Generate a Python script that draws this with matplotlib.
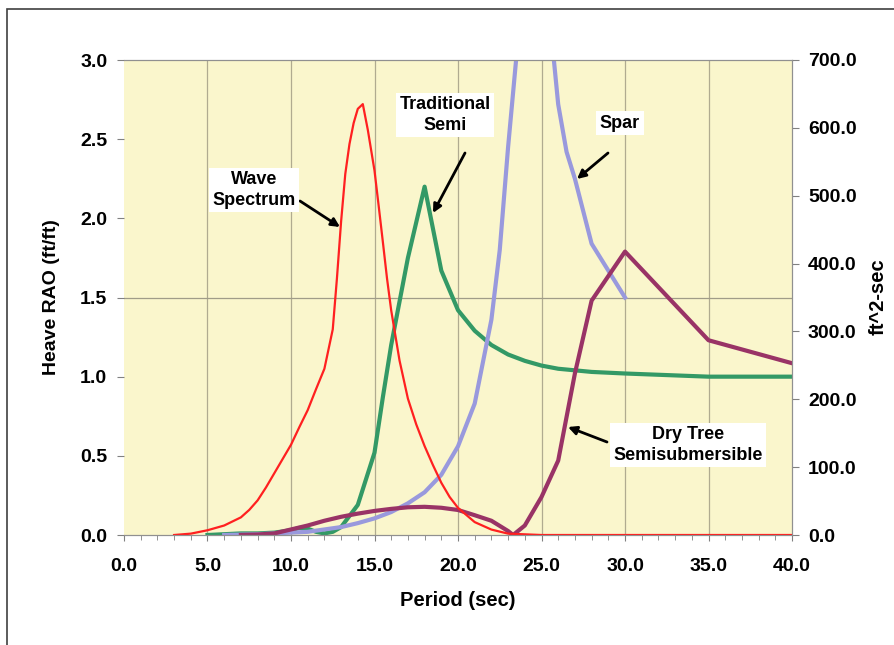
import matplotlib
matplotlib.use("Agg")
import matplotlib.pyplot as plt
from matplotlib.patches import Rectangle
from matplotlib.ticker import MultipleLocator, FormatStrFormatter

plt.rcParams['font.family'] = ['Liberation Sans', 'DejaVu Sans']
plt.rcParams['font.weight'] = 'bold'

# wave spectrum (ft^2-sec, right axis)
wave_t = [3, 4, 5, 6, 7, 7.5, 8, 8.5, 9, 9.5, 10, 10.5, 11, 11.5, 12, 12.5,
          12.75, 13, 13.25, 13.5, 13.75, 14, 14.3, 14.6, 15, 15.25, 15.5,
          15.75, 16, 16.5, 17, 17.5, 18, 18.5, 19, 19.5, 20, 21, 22, 23, 24,
          25, 30, 35, 40]
wave_s = [0, 2, 7, 14, 26, 37, 51, 70, 91, 112, 133, 159, 184, 215, 245, 303,
          378, 462, 532, 576, 607, 628, 635, 597, 537, 485, 432, 378, 331, 257,
          201, 163, 131, 103, 77, 56, 40, 19, 8, 2, 1, 0, 0, 0, 0]

# heave RAOs (ft/ft, left axis)
semi_t = [5, 6, 7, 8, 9, 10, 10.5, 11, 11.5, 12, 12.5, 13, 14, 15, 15.5, 16, 17,
          18, 19, 20, 21, 22, 23, 24, 25, 26, 27, 28, 30, 35, 40]
semi_r = [0, 0.005, 0.01, 0.01, 0.015, 0.03, 0.045, 0.04, 0.02, 0.01, 0.02, 0.05,
          0.19, 0.52, 0.87, 1.2, 1.75, 2.2, 1.67, 1.42, 1.29, 1.2, 1.14, 1.1,
          1.07, 1.05, 1.04, 1.03, 1.02, 1.0, 1.0]

spar_t = [6, 8, 10, 11, 12, 13, 14, 15, 16, 17, 18, 19, 20, 21, 22, 22.5, 23,
          24, 24.5, 25, 26, 26.5, 27, 28, 30]
spar_r = [0, 0.005, 0.015, 0.02, 0.035, 0.05, 0.075, 0.105, 0.145, 0.2, 0.27,
          0.38, 0.56, 0.83, 1.36, 1.8, 2.45, 3.6, 4.2, 3.8, 2.72, 2.42, 2.25,
          1.84, 1.5]

dry_t = [7, 8, 9, 10, 11, 12, 13, 14, 15, 16, 17, 18, 19, 20, 21, 22, 23, 23.3,
         24, 25, 26, 27, 28, 30, 35, 40]
dry_r = [0, 0.003, 0.01, 0.035, 0.06, 0.09, 0.115, 0.135, 0.152, 0.165, 0.175,
         0.178, 0.172, 0.158, 0.125, 0.09, 0.025, 0.0, 0.06, 0.24, 0.47, 1.02,
         1.48, 1.79, 1.23, 1.085]

fig = plt.figure(figsize=(8.95, 6.45), dpi=100)
fig.patches.append(Rectangle((7 / 895, -0.1), 1.2, 1 - 9 / 645 + 0.1,
                             transform=fig.transFigure, fill=False,
                             edgecolor='#404040', lw=1.2))

ax = fig.add_axes([124 / 895, 1 - 535 / 645, 668 / 895, 475 / 645])
ax.set_facecolor('#faf6cc')
ax2 = ax.twinx()

ax.set_xlim(0, 40)
ax.set_ylim(0, 3.0)
ax2.set_ylim(0, 700)

for x in range(5, 40, 5):
    ax.axvline(x, color='#b0ab90', lw=0.9, zorder=0)
ax.axhline(1.5, color='#a09c88', lw=0.9, zorder=0)

ax.plot(semi_t, semi_r, color='#339966', lw=3)
ax.plot(spar_t, spar_r, color='#9999dd', lw=3)
ax.plot(dry_t, dry_r, color='#993366', lw=3)
ax2.plot(wave_t, wave_s, color='#ff2020', lw=1.6)

for a in (ax, ax2):
    for s in a.spines.values():
        s.set_color('#909090')
ax.spines['left'].set_visible(False)
ax2.spines['left'].set_visible(False)

ax.xaxis.set_major_locator(MultipleLocator(5))
ax.xaxis.set_minor_locator(MultipleLocator(1))
ax.xaxis.set_major_formatter(FormatStrFormatter('%.1f'))
ax.yaxis.set_major_locator(MultipleLocator(0.5))
ax.yaxis.set_major_formatter(FormatStrFormatter('%.1f'))
ax2.yaxis.set_major_locator(MultipleLocator(100))
ax2.yaxis.set_major_formatter(FormatStrFormatter('%.1f'))

ax.tick_params(axis='x', which='major', length=4.5, color='#808080', pad=12,
               labelsize=14)
ax.tick_params(axis='x', which='minor', length=3.5, color='#808080')
ax.tick_params(axis='y', length=5, color='#808080', labelsize=14, pad=7)
ax2.tick_params(axis='y', length=5, color='#808080', labelsize=14, pad=6.5)


def pix(x, y):
    return (x / 895, 1 - y / 645)


fig.text(*pix(458, 600), 'Period (sec)', ha='center', va='center',
         fontsize=14.5, fontweight='bold')
fig.text(*pix(52, 297), 'Heave RAO (ft/ft)', ha='center', va='center',
         rotation=90, fontsize=14, fontweight='bold')
fig.text(*pix(878, 297), 'ft^2-sec', ha='center', va='center',
         rotation=90, fontsize=14.5, fontweight='bold')

box = dict(boxstyle='square,pad=0.2', fc='white', ec='none')
arrow = dict(arrowstyle='-|>,head_length=0.5,head_width=0.25', color='black',
             lw=2, shrinkA=0, shrinkB=0)

notes = [
    ('Wave\nSpectrum', (254, 190), (300, 201), (340, 227)),
    ('Traditional\nSemi', (445, 115), (465, 153), (433, 213)),
    ('Spar', (620, 123), (608, 153), (577, 179)),
    ('Dry Tree\nSemisubmersible', (688, 445), (607, 442), (568, 427)),
]
for text, tpos, astart, aend in notes:
    fig.text(*pix(*tpos), text, ha='center', va='center', fontsize=13,
             fontweight='bold', linespacing=1.25, bbox=box)
    ax.annotate('', xy=pix(*aend), xycoords='figure fraction',
                xytext=pix(*astart), textcoords='figure fraction',
                arrowprops=arrow)

fig.savefig('out.png', dpi=100)
